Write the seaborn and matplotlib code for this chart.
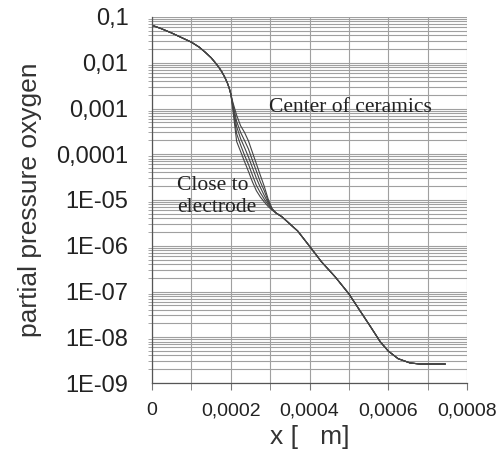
import numpy as np
import pandas as pd
import matplotlib
matplotlib.use("Agg")
import matplotlib.pyplot as plt
import matplotlib.ticker as mticker
import seaborn as sns

# ---- data ----
x_head = [0.0, 0.25e-4, 0.5e-4, 0.75e-4, 1.0e-4, 1.2e-4, 1.35e-4, 1.5e-4, 1.6e-4,
          1.7e-4, 1.78e-4, 1.85e-4, 1.91e-4, 1.96e-4, 2.0e-4]
p_head = [0.066, 0.055, 0.0447, 0.0355, 0.0282, 0.0219, 0.0170, 0.0129, 0.0102,
          0.0079, 0.0062, 0.0048, 0.0037, 0.0028, 0.0021]

x_bundle = [2.05e-4, 2.15e-4, 2.25e-4, 2.35e-4, 2.45e-4, 2.55e-4, 2.65e-4, 2.75e-4,
            2.85e-4, 2.95e-4, 3.05e-4]
p_bundle_1 = [1.0e-3, 1.9e-4, 1.15e-4, 6.9e-5, 4.2e-5, 2.5e-5, 1.6e-5, 1.17e-5, 9.1e-6, 7.2e-6, 6.0e-6]
p_bundle_2 = [1.12e-3, 2.8e-4, 1.6e-4, 9.5e-5, 6.0e-5, 3.5e-5, 2.1e-5, 1.45e-5, 1.05e-5, 7.9e-6, 6.2e-6]
p_bundle_3 = [1.2e-3, 4.0e-4, 2.2e-4, 1.4e-4, 8.7e-5, 5.1e-5, 3.0e-5, 1.9e-5, 1.26e-5, 8.7e-6, 6.3e-6]
p_bundle_4 = [1.3e-3, 5.2e-4, 3.0e-4, 2.0e-4, 1.3e-4, 7.4e-5, 4.3e-5, 2.5e-5, 1.6e-5, 9.5e-6, 6.4e-6]
p_bundle_5 = [1.4e-3, 7.1e-4, 4.2e-4, 3.0e-4, 1.95e-4, 1.1e-4, 6.2e-5, 3.5e-5, 2.0e-5, 1.05e-5, 6.5e-6]

x_tail = [3.15e-4, 3.3e-4, 3.5e-4, 3.7e-4, 4.0e-4, 4.3e-4, 4.65e-4, 5.0e-4, 5.3e-4,
          5.55e-4, 5.8e-4, 6.0e-4, 6.25e-4, 6.55e-4, 6.8e-4, 7.1e-4, 7.45e-4]
p_tail = [5.2e-6, 4.3e-6, 3.0e-6, 2.1e-6, 9.8e-7, 4.5e-7, 2.1e-7, 8.9e-8, 3.6e-8,
          1.7e-8, 7.9e-9, 5.0e-9, 3.4e-9, 2.75e-9, 2.6e-9, 2.6e-9, 2.6e-9]

y_ticks = [1e-1, 1e-2, 1e-3, 1e-4, 1e-5, 1e-6, 1e-7, 1e-8, 1e-9]
y_tick_labels = ["0,1", "0,01", "0,001", "0,0001", "1E-05", "1E-06", "1E-07", "1E-08", "1E-09"]
x_ticks = [0.0, 0.0002, 0.0004, 0.0006, 0.0008]
x_tick_labels = ["0", "0,0002", "0,0004", "0,0006", "0,0008"]

bundles = [p_bundle_1, p_bundle_2, p_bundle_3, p_bundle_4, p_bundle_5]
rows = []
for i, pb in enumerate(bundles):
    xs = x_head + x_bundle + x_tail
    ps = p_head + pb + p_tail
    for xv, pv in zip(xs, ps):
        rows.append({"x": xv, "p": pv, "curve": f"c{i}"})
df = pd.DataFrame(rows)

sns.set_style("white")
plt.rcParams["font.family"] = ["Liberation Sans", "DejaVu Sans"]

fig = plt.figure(figsize=(5.02, 4.55), dpi=100)
ax = fig.add_axes([152 / 502, 1 - 383 / 455, (467 - 152) / 502, (383 - 17) / 455])

ax.set_yscale("log")
ax.set_ylim(1e-9, 1e-1)
ax.set_xlim(0, 0.0008)

sns.lineplot(data=df, x="x", y="p", hue="curve", units=None, estimator=None,
             palette=["#444444"] * 5, linewidth=0.8, legend=False, ax=ax, sort=False)

# grid
ax.yaxis.set_major_locator(mticker.FixedLocator(y_ticks))
ax.yaxis.set_minor_locator(mticker.LogLocator(base=10, subs=np.arange(2, 10), numticks=50))
ax.yaxis.set_minor_formatter(mticker.NullFormatter())
ax.set_yticklabels(y_tick_labels)
ax.xaxis.set_major_locator(mticker.FixedLocator(x_ticks))
ax.set_xticklabels(x_tick_labels)
ax.xaxis.set_minor_locator(mticker.MultipleLocator(0.0001))
ax.grid(True, which="both", axis="both", color="#a0a0a0", linewidth=0.8)
ax.set_axisbelow(True)

for s in ["top", "right"]:
    ax.spines[s].set_visible(False)
for s in ["left", "bottom"]:
    ax.spines[s].set_color("#555555")
    ax.spines[s].set_linewidth(0.9)

ax.tick_params(axis="y", which="major", labelsize=17, length=5, color="#777777", pad=12, labelcolor="#222222")
ax.tick_params(axis="y", which="minor", length=3, color="#999999", left=True)
ax.tick_params(axis="x", which="both", labelsize=14, length=5, color="#777777", pad=9, labelcolor="#222222", bottom=True)

ax.set_ylabel("partial pressure oxygen", fontsize=19, color="#333333", labelpad=10)
ax.set_xlabel("x [   m]", fontsize=19, color="#333333", labelpad=4)

ax.text(0.000298, 1.05e-3, "Center of ceramics", family=["Liberation Serif"], fontsize=15.5,
        color="#222222", va="center", ha="left")
ax.text(0.000064, 1.2e-5, "Close to\nelectrode", family=["Liberation Serif"], fontsize=15.5,
        color="#222222", va="center", ha="left", linespacing=1.2)

fig.savefig("out.png", dpi=100)
